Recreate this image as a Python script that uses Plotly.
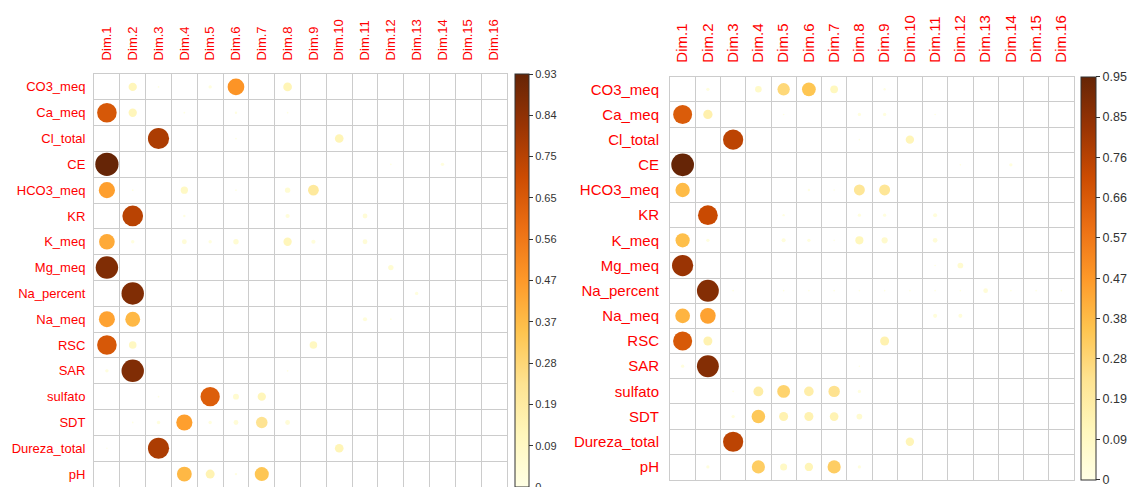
import numpy as np
import plotly.graph_objects as go

variables = ["CO3_meq", "Ca_meq", "Cl_total", "CE", "HCO3_meq", "KR", "K_meq", "Mg_meq",
             "Na_percent", "Na_meq", "RSC", "SAR", "sulfato", "SDT", "Dureza_total", "pH"]
dims = [f"Dim.{i}" for i in range(1, 17)]

# squared cosines of each variable on the 16 dimensions (left analysis)
cos2_left = [
    [0, 0.12, 0.005, 0, 0.02, 0.48, 0, 0.13, 0, 0, 0, 0, 0, 0, 0, 0],
    [0.66, 0.12, 0, 0.005, 0, 0.01, 0, 0.005, 0, 0, 0, 0, 0, 0, 0, 0],
    [0, 0, 0.77, 0, 0, 0.005, 0, 0, 0, 0.13, 0, 0, 0, 0, 0, 0],
    [0.93, 0, 0, 0, 0, 0, 0, 0, 0, 0, 0, 0.005, 0, 0.02, 0, 0],
    [0.45, 0.005, 0, 0.09, 0, 0.005, 0, 0.05, 0.20, 0, 0, 0, 0, 0, 0, 0],
    [0, 0.74, 0, 0.01, 0, 0, 0, 0.03, 0, 0, 0.04, 0, 0, 0, 0, 0],
    [0.42, 0.02, 0, 0.04, 0.02, 0.05, 0, 0.12, 0.03, 0, 0.04, 0, 0, 0, 0, 0],
    [0.87, 0, 0, 0, 0, 0, 0, 0, 0, 0, 0, 0.05, 0, 0, 0, 0],
    [0, 0.87, 0, 0, 0, 0, 0, 0, 0, 0, 0, 0, 0.02, 0, 0, 0],
    [0.44, 0.38, 0, 0, 0, 0, 0, 0, 0, 0, 0.03, 0.005, 0, 0, 0, 0],
    [0.66, 0.10, 0, 0, 0, 0, 0, 0, 0.10, 0, 0, 0, 0, 0, 0, 0],
    [0.02, 0.87, 0, 0, 0, 0, 0, 0.005, 0, 0, 0, 0, 0, 0, 0, 0],
    [0, 0, 0.005, 0, 0.64, 0.06, 0.12, 0, 0, 0, 0, 0, 0, 0, 0, 0],
    [0, 0.005, 0.02, 0.45, 0.02, 0.04, 0.23, 0.04, 0, 0, 0, 0, 0, 0, 0, 0],
    [0.003, 0, 0.77, 0, 0, 0, 0, 0, 0, 0.13, 0, 0, 0, 0, 0, 0],
    [0, 0, 0, 0.38, 0.14, 0.01, 0.34, 0, 0, 0, 0, 0, 0, 0, 0, 0],
]

# squared cosines of each variable on the 16 dimensions (right analysis)
cos2_right = [
    [0, 0.02, 0, 0.08, 0.28, 0.35, 0.11, 0, 0.01, 0, 0, 0, 0, 0, 0, 0],
    [0.66, 0.16, 0, 0, 0.005, 0, 0, 0.02, 0.02, 0, 0.005, 0, 0, 0, 0, 0],
    [0, 0, 0.75, 0, 0, 0, 0, 0.005, 0, 0.13, 0, 0, 0, 0, 0, 0],
    [0.95, 0, 0, 0, 0, 0, 0, 0, 0, 0, 0, 0.005, 0, 0.02, 0, 0],
    [0.38, 0, 0, 0, 0, 0.01, 0.005, 0.22, 0.22, 0, 0, 0, 0, 0, 0, 0],
    [0, 0.72, 0, 0, 0.01, 0, 0, 0.02, 0.02, 0, 0.03, 0, 0, 0, 0, 0],
    [0.37, 0.02, 0, 0, 0.03, 0.02, 0.005, 0.12, 0.07, 0, 0.04, 0, 0, 0, 0, 0],
    [0.83, 0, 0, 0, 0, 0, 0, 0, 0, 0, 0.005, 0.06, 0, 0, 0, 0],
    [0, 0.88, 0.005, 0, 0.005, 0.005, 0.005, 0.005, 0.005, 0.005, 0.005, 0.005, 0.04, 0.005, 0.005, 0.005],
    [0.40, 0.45, 0, 0, 0, 0, 0, 0, 0, 0, 0.03, 0.03, 0, 0, 0, 0],
    [0.67, 0.15, 0, 0, 0, 0, 0, 0, 0.15, 0, 0, 0, 0, 0, 0, 0],
    [0.02, 0.88, 0, 0, 0, 0, 0, 0.005, 0, 0, 0, 0, 0, 0, 0, 0],
    [0, 0, 0.005, 0.18, 0.30, 0.17, 0.24, 0.02, 0, 0, 0, 0, 0, 0, 0, 0],
    [0, 0, 0.02, 0.34, 0.15, 0.15, 0.14, 0.06, 0, 0, 0, 0, 0, 0, 0, 0],
    [0, 0, 0.75, 0, 0, 0, 0, 0, 0, 0.13, 0, 0, 0, 0, 0, 0],
    [0, 0.02, 0, 0.32, 0.09, 0.13, 0.32, 0.02, 0, 0, 0, 0, 0, 0, 0, 0],
]

vmax_left = 0.93
vmax_right = 0.95
cbar_labels_left = ["0", "0.09", "0.19", "0.28", "0.37", "0.47", "0.56", "0.65", "0.75", "0.84", "0.93"]
cbar_labels_right = ["0", "0.09", "0.19", "0.28", "0.38", "0.47", "0.57", "0.66", "0.76", "0.85", "0.95"]

W, H = 1128, 487
FONT = "Liberation Sans, Arial, sans-serif"
GRID = "#cccccc"
YLORBR = [[0.0, "#ffffe5"], [0.125, "#fff7bc"], [0.25, "#fee391"], [0.375, "#fec44f"],
          [0.5, "#fe9929"], [0.625, "#ec7014"], [0.75, "#cc4c02"], [0.875, "#993404"],
          [1.0, "#662506"]]

# panel geometry in pixels: (left, right, top, bottom)
panels = [
    dict(box=(94, 507, 74, 487), vals=cos2_left, vmax=vmax_left, labels=cbar_labels_left,
         font=13, cfont=11, cbx=515, cbw=14, gap_x=7, gap_y=12),
    dict(box=(670, 1074, 76.7, 479.5), vals=cos2_right, vmax=vmax_right, labels=cbar_labels_right,
         font=15, cfont=12.5, cbx=1081, cbw=15, gap_x=9, gap_y=12),
]

fig = go.Figure()
layout = dict(width=W, height=H, margin=dict(l=0, r=0, t=0, b=0),
              paper_bgcolor="white", plot_bgcolor="white", showlegend=False,
              font=dict(family=FONT))

edges = [k - 0.5 for k in range(17)]
for p_i, p in enumerate(panels):
    x0, x1, y0, y1 = p["box"]
    cell = (x1 - x0) / 16.0
    vals = np.array(p["vals"], dtype=float)
    rr, cc = np.meshgrid(np.arange(16), np.arange(16), indexing="ij")
    v = vals.ravel()
    mask = v > 0
    sizes = cell * 0.9 * np.sqrt(v[mask] / p["vmax"])
    suffix = "" if p_i == 0 else str(p_i + 1)
    cax = "coloraxis" + suffix
    fig.add_trace(go.Scatter(
        x=cc.ravel()[mask], y=rr.ravel()[mask], mode="markers",
        xaxis="x" + suffix, yaxis="y" + suffix,
        marker=dict(size=sizes, color=v[mask], coloraxis=cax, opacity=1, line=dict(width=0)),
        hovertemplate="%{marker.color:.3f}<extra></extra>",
    ))
    dom_x = [x0 / W, x1 / W]
    dom_y = [1 - y1 / H, 1 - y0 / H]
    layout["xaxis" + suffix] = dict(
        domain=dom_x, range=[-0.5, 15.5], side="top", anchor="y" + suffix,
        tickmode="array", tickvals=list(range(16)), ticktext=dims, tickangle=-90,
        tickfont=dict(color="red", size=p["font"], family=FONT),
        ticks="outside", ticklen=p["gap_y"] - 2, tickcolor="rgba(0,0,0,0)",
        showgrid=False, zeroline=False, showline=True, mirror=True, linecolor=GRID,
        minor=dict(tickmode="array", tickvals=edges, showgrid=True, gridcolor=GRID, gridwidth=1),
        fixedrange=True)
    layout["yaxis" + suffix] = dict(
        domain=dom_y, range=[15.5, -0.5], anchor="x" + suffix,
        tickmode="array", tickvals=list(range(16)), ticktext=variables,
        tickfont=dict(color="red", size=p["font"], family=FONT),
        ticks="outside", ticklen=p["gap_x"] - 2, tickcolor="rgba(0,0,0,0)",
        showgrid=False, zeroline=False, showline=True, mirror=True, linecolor=GRID,
        minor=dict(tickmode="array", tickvals=edges, showgrid=True, gridcolor=GRID, gridwidth=1),
        fixedrange=True)
    ticks = [float(t) for t in np.linspace(0, p["vmax"], 11)]
    layout[cax] = dict(
        cmin=0, cmax=p["vmax"], colorscale=YLORBR,
        colorbar=dict(
            x=p["cbx"] / W, xanchor="left", xpad=0, ypad=0,
            y=1 - y0 / H, yanchor="top", len=(y1 - y0) / H, lenmode="fraction",
            thickness=p["cbw"], thicknessmode="pixels",
            outlinewidth=1, outlinecolor="#333333",
            tickmode="array", tickvals=ticks, ticklabeloverflow="allow",
            ticktext=p["labels"], ticks="outside", ticklen=4, tickcolor="#333333",
            tickfont=dict(size=p["cfont"], color="#333333", family=FONT)))

fig.update_layout(**layout)
fig.write_html("out.html")
